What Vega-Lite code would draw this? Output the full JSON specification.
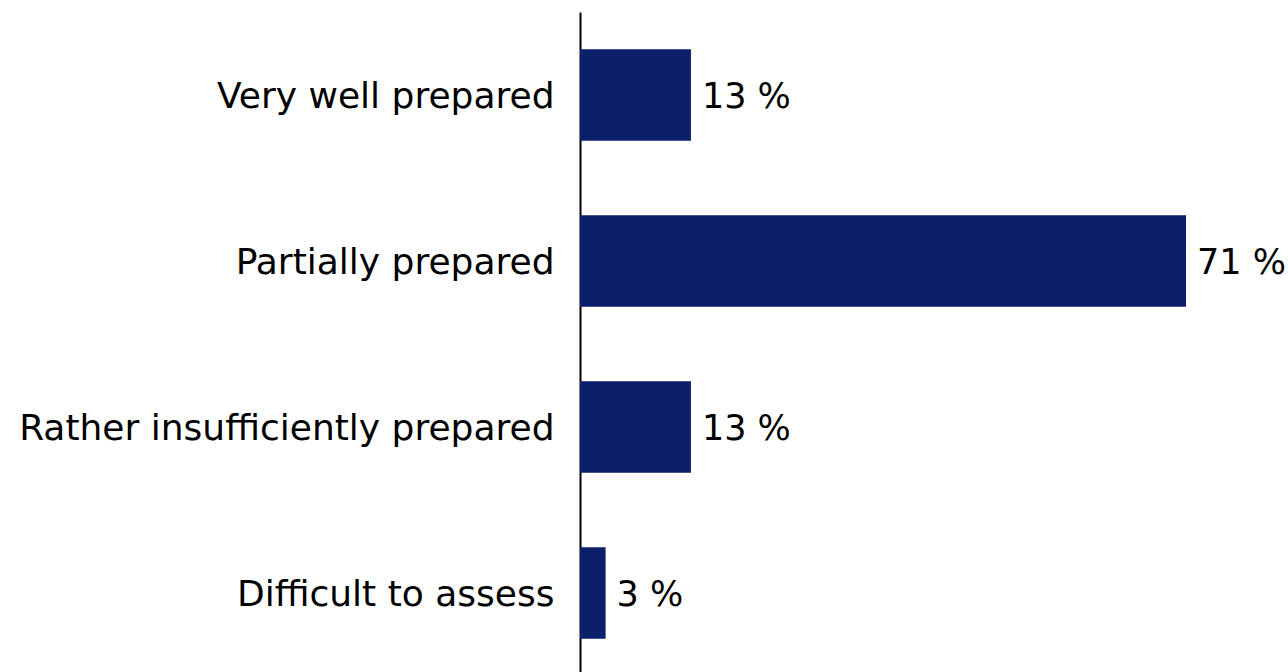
{
  "$schema": "https://vega.github.io/schema/vega-lite/v6.json",
  "autosize": "none",
  "width": 606,
  "height": 664,
  "padding": {"left": 580, "top": 12, "right": 102, "bottom": 0},
  "background": "white",
  "config": {"view": {"stroke": null}, "font": "DejaVu Sans"},
  "data": {"values": [
    {"category": "Very well prepared", "value": 13},
    {"category": "Partially prepared", "value": 71},
    {"category": "Rather insufficiently prepared", "value": 13},
    {"category": "Difficult to assess", "value": 3}
  ]},
  "transform": [{"calculate": "datum.value + ' %'", "as": "label"}],
  "encoding": {
    "y": {"field": "category", "type": "nominal", "sort": null,
      "scale": {"paddingInner": 0.45, "paddingOuter": 0.225},
      "axis": {"title": null, "ticks": false, "domainColor": "black", "domainWidth": 2,
        "labelFontSize": 36, "labelColor": "black", "labelPadding": 26, "labelLimit": 600, "labelFont": "DejaVu Sans", "labelFontWeight": "normal", "labelOffset": 2}},
    "x": {"field": "value", "type": "quantitative", "scale": {"domain": [0, 71], "nice": false}, "axis": null}
  },
  "layer": [
    {"mark": {"type": "bar", "color": "#0B1F6B"}},
    {"mark": {"type": "text", "align": "left", "baseline": "middle", "dx": 11, "dy": 2, "fontSize": 35, "color": "black", "font": "DejaVu Sans"},
      "encoding": {"text": {"field": "label", "type": "nominal"}}}
  ]
}
